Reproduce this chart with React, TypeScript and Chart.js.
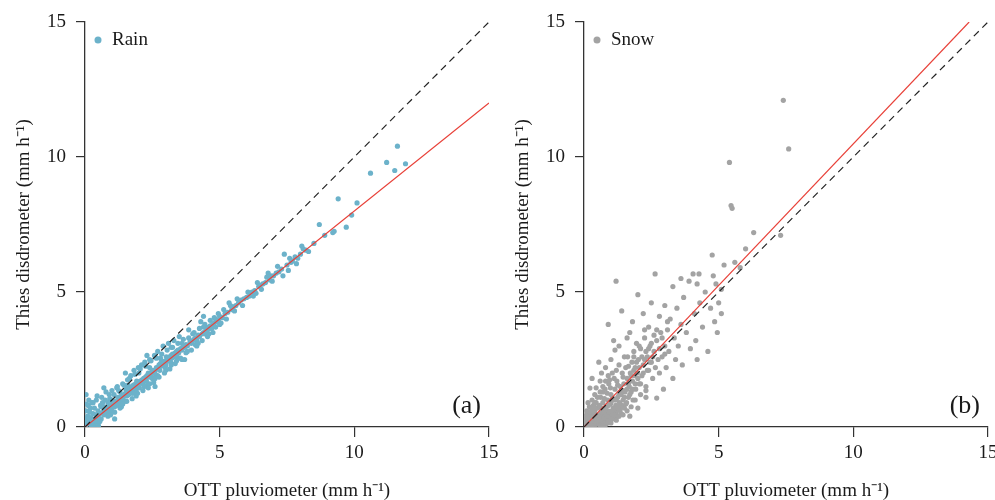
import React, { useEffect, useRef } from "react";
import { Chart, registerables } from "chart.js";
Chart.register(...registerables);

const FONT = "'Liberation Serif', 'Times New Roman', serif";
const AXIS_TICKS = [0, 5, 10, 15];
const X_TITLE = "OTT pluviometer (mm h⁻¹)";
const Y_TITLE = "Thies disdrometer (mm h⁻¹)";

const rainPoints: [number, number][] = [
  [0.02,0.05],[0.05,0.3],[0.03,0.6],[0.04,1.2],[0.08,0.15],[0.1,0.4],[0.12,0.8],[0.15,0.2],[0.18,0.55],[0.2,0.1],
  [0.22,0.35],[0.25,0.9],[0.28,0.25],[0.3,0.5],[0.32,0.15],[0.35,0.7],[0.38,0.3],[0.4,0.45],[0.42,1.0],[0.45,0.2],
  [0.48,0.6],[0.5,0.35],[0.06,0.85],[0.14,1.0],[0.35,0.05],[0.5,0.05],
  [0.55,0.5],[0.58,0.8],[0.6,0.3],[0.62,1.1],[0.65,0.55],[0.7,0.45],[0.72,0.75],[0.75,0.6],[0.78,1.3],[0.8,0.5],
  [0.82,0.7],[0.85,0.9],[0.88,0.55],[0.9,0.75],[0.92,1.05],[0.95,0.7],[0.98,0.85],[1.0,0.6],[1.02,1.0],[1.05,0.8],
  [1.08,1.2],[1.1,0.75],[1.12,0.95],[1.15,0.85],[1.18,1.45],[1.2,0.9],[1.22,1.1],[1.25,0.8],[1.28,1.0],[1.3,1.3],
  [1.32,0.95],[1.35,1.15],[1.38,1.05],[1.4,1.6],[1.42,1.1],[1.45,1.2],[1.48,0.95],[1.5,1.25],
  [1.52,1.4],[1.55,1.15],[1.58,1.75],[1.6,1.3],[1.62,1.2],[1.65,1.45],[1.68,1.35],[1.7,1.9],[1.72,1.25],[1.75,1.5],
  [1.78,1.4],[1.8,1.55],[1.82,2.1],[1.85,1.45],[1.88,1.6],[1.9,1.35],[1.92,1.7],[1.95,1.55],[1.98,2.2],[2.0,1.6],
  [2.02,1.45],[2.05,1.7],[2.08,1.65],[2.1,2.3],[2.12,1.75],[2.15,1.6],[2.18,1.8],[2.2,1.7],[2.22,2.4],[2.25,1.85],
  [2.28,1.7],[2.3,1.9],[2.32,1.55],[2.35,2.0],[2.38,1.85],[2.4,2.5],[2.42,1.95],[2.45,1.9],[2.48,2.05],[2.5,1.8],
  [2.52,2.1],[2.55,2.0],[2.58,2.65],[2.6,2.1],[2.62,1.95],[2.65,2.2],[2.68,2.15],[2.7,2.8],[2.72,2.2],[2.75,2.3],
  [2.78,2.1],[2.8,2.35],[2.82,2.25],[2.85,2.45],[2.88,2.3],[2.9,3.0],[2.92,2.35],[2.95,2.4],[2.98,2.2],[3.0,2.45],
  [3.02,2.6],[3.05,2.45],[3.08,2.55],[3.1,3.1],[3.12,2.5],[3.15,2.6],[3.18,2.4],[3.2,2.65],[3.22,2.55],[3.25,2.7],
  [3.28,2.6],[3.3,3.2],[3.32,2.65],[3.35,2.75],[3.38,2.7],[3.4,2.8],[3.42,2.6],[3.45,2.85],[3.48,2.75],[3.5,3.35],
  [3.55,2.9],[3.6,2.85],[3.65,3.0],[3.7,2.95],[3.75,3.05],[3.8,3.0],[3.85,3.6],[3.9,3.15],[3.95,3.1],[4.0,3.2],
  [4.05,3.25],[4.1,3.3],[4.15,3.2],[4.2,3.4],[4.25,3.35],[4.3,3.9],[4.35,3.45],[4.4,3.5],[4.45,3.45],[4.5,3.65],
  [4.55,3.6],[4.6,3.7],[4.65,3.75],[4.7,3.65],[4.75,3.8],[4.8,3.85],[4.85,4.0],[4.9,3.9],[4.95,3.95],[5.0,4.1],
  [3.6,2.5],[3.2,2.3],[2.4,1.6],[1.9,1.15],[4.1,3.05],[4.4,4.1],[3.0,2.1],[1.3,0.7],[0.95,0.45],[2.7,1.9],
  [0.3,0.9],[0.45,1.15],[0.6,0.75],[0.75,1.0],[0.85,0.4],[1.0,1.35],[1.1,0.55],[1.2,1.5],[1.35,0.75],[1.45,1.55],
  [1.55,0.95],[1.65,1.8],[1.75,1.05],[1.85,1.95],[1.95,1.25],[2.05,2.15],[2.15,1.35],[2.25,2.25],[2.35,1.45],[2.45,2.45],
  [2.55,1.65],[2.65,2.55],[2.75,1.85],[2.85,2.7],[2.95,2.0],[3.05,2.85],[3.15,2.15],[3.25,2.95],[3.35,2.35],[3.45,3.1],
  [3.55,2.55],[3.65,3.25],[3.75,2.75],[3.85,3.3],[3.95,2.85],[4.05,3.5],[4.15,3.0],[4.25,3.65],[4.35,3.2],[4.45,3.8],
  [4.55,3.35],[4.65,3.95],[4.75,3.5],[4.85,3.7],[4.95,4.2],[5.05,3.85],[5.15,4.35],[5.25,4.0],[5.4,4.5],[5.55,4.3],
  [5.65,4.75],[5.85,4.5],[6.05,5.0],[6.25,4.85],[6.4,5.35],[6.55,5.1],[6.8,5.7],[6.95,5.4],[7.15,5.95],[7.35,5.6],
  [7.6,6.25],[7.85,6.05],[8.05,6.7],[8.3,6.5],[1.1,0.3],[2.6,1.5],[3.7,2.5],[0.7,1.45],[1.5,2.0],[2.3,2.65],
  [0.2,0.7],[0.15,0.6],[0.25,0.05],[0.55,0.2],[0.65,0.9],[0.9,1.2],[1.25,1.35],[1.4,0.85],[1.6,1.55],[1.8,1.25],
  [2.0,2.0],[2.2,1.5],[2.4,2.2],[2.6,1.8],[2.8,2.55],[3.0,2.3],[3.2,2.95],[3.4,2.45],[3.6,3.1],[3.8,2.8],
  [4.0,3.45],[4.2,3.1],[4.4,3.7],[4.6,3.45],[4.8,4.05],[5.0,3.8],
  [5.1,4.05],[5.2,4.2],[5.3,4.25],[5.35,4.6],[5.45,4.35],[5.5,4.45],[5.6,4.5],[5.7,4.6],[5.8,4.7],[5.9,4.75],
  [6.0,4.8],[6.1,4.85],[6.2,5.0],[6.3,5.05],[6.35,4.95],[6.45,5.2],[6.5,5.25],[6.6,5.3],[6.7,5.35],[6.75,5.55],
  [6.85,5.45],[6.9,5.6],[7.0,5.6],[7.1,5.7],[7.2,5.75],[7.3,5.85],[7.4,6.4],[7.5,6.0],[7.55,5.8],[7.65,6.1],
  [7.7,6.15],[7.8,6.3],[7.9,6.25],[8.0,6.4],[8.1,6.6],[8.2,6.55],[8.5,6.8],[8.7,7.5],[8.9,7.1],[9.2,7.2],
  [9.25,7.25],[9.4,8.45],[9.7,7.4],[9.9,7.85],[10.1,8.3],[10.6,9.4],[11.2,9.8],[11.5,9.5],[11.6,10.4],[11.9,9.75]
];

const snowPoints: [number, number][] = [
  [0.02,0.02],[0.05,0.1],[0.08,0.05],[0.1,0.2],[0.12,0.08],[0.15,0.3],[0.18,0.12],[0.2,0.4],[0.22,0.15],[0.25,0.25],
  [0.28,0.1],[0.3,0.5],[0.32,0.2],[0.35,0.35],[0.38,0.15],[0.4,0.6],[0.42,0.25],[0.45,0.45],[0.48,0.2],[0.5,0.7],
  [0.05,0.4],[0.1,0.6],[0.15,0.9],[0.2,0.75],[0.22,1.44],[0.3,1.0],[0.35,0.8],[0.4,1.2],[0.45,0.9],[0.5,0.3],
  [0.08,0.3],[0.12,0.5],[0.28,0.6],[0.38,0.05],[0.45,0.1],[0.5,0.15],[0.03,0.2],[0.06,0.06],[0.14,0.16],[0.26,0.42],
  [0.33,0.08],[0.42,0.72],[0.55,0.12],[0.62,0.18],[0.7,0.1],[0.78,0.22],[0.88,0.15],[0.66,0.7],[0.74,0.42],[0.84,0.5],
  [0.55,0.4],[0.58,0.8],[0.6,0.25],[0.62,1.1],[0.65,0.55],[0.68,0.35],[0.7,0.9],[0.72,0.2],[0.75,0.6],[0.78,1.4],
  [0.8,0.45],[0.82,0.75],[0.85,0.3],[0.88,1.0],[0.9,3.8],[0.9,0.6],[0.92,1.6],[0.95,0.4],[0.98,0.85],[1.0,1.2],
  [1.02,0.5],[1.05,2.0],[1.08,0.7],[1.1,1.0],[1.12,0.35],[1.15,2.85],[1.15,1.4],[1.18,0.8],[1.19,5.4],[1.2,0.55],
  [1.22,1.7],[1.25,1.1],[1.28,0.65],[1.3,2.3],[1.32,0.9],[1.34,0.63],[1.35,1.5],[1.38,1.2],[1.4,4.3],[1.4,0.8],
  [1.42,2.0],[1.45,1.0],[1.48,1.6],[1.5,0.7],[0.6,1.7],[0.7,1.3],[0.8,2.2],[1.0,2.5],[1.1,3.2],[1.3,3.0],
  [0.95,0.25],[1.05,0.3],[1.16,0.45],[1.25,0.4],[0.98,1.45],[1.12,1.8],[0.86,1.25],[0.76,1.05],[1.38,0.5],[1.46,1.35],
  [0.1,0.1],[0.15,0.05],[0.2,0.25],[0.25,0.12],[0.3,0.3],[0.35,0.15],[0.4,0.35],[0.45,0.28],[0.5,0.45],[0.55,0.25],
  [0.6,0.5],[0.65,0.3],[0.7,0.55],[0.75,0.35],[0.8,0.65],[0.85,0.4],[0.9,0.8],[0.95,0.55],[1.0,0.9],[1.05,0.6],
  [1.1,0.45],[1.15,0.7],[1.2,1.0],[1.25,0.7],[1.3,1.2],[1.35,0.8],[1.4,1.3],[1.45,0.75],[1.5,1.1],[1.55,0.85],
  [1.6,1.4],[1.65,1.6],[1.7,1.2],[1.75,1.9],[1.8,1.4],[1.85,2.1],[1.9,1.6],[1.95,2.4],[2.0,1.8],[2.05,2.2],
  [2.1,1.6],[2.15,2.6],[2.2,2.0],[2.25,2.5],[2.3,2.8],[2.35,2.1],[2.4,2.9],[2.45,2.4],[2.5,3.1],[2.55,2.6],
  [2.6,3.4],[2.65,2.2],[2.7,3.6],[2.8,2.9],[2.9,3.3],[3.0,2.7],[3.1,3.9],[0.3,0.7],[0.4,0.9],[0.5,1.1],
  [0.6,1.3],[0.7,1.5],[0.8,1.7],[0.9,1.9],[0.45,1.45],[0.65,2.0],[0.3,1.8],[0.55,2.4],[0.2,0.55],[0.12,0.35],
  [0.06,0.18],[0.18,0.02],[0.28,0.05],[0.6,0.05],[0.8,0.08],[1.0,0.15],[1.2,0.25],[1.45,0.45],[1.6,0.6],[1.75,0.75],
  [1.9,1.0],[2.1,1.2],[2.3,1.35],[1.05,1.05],[1.25,1.55],[1.45,1.85],[1.65,2.25],[1.85,2.6],[2.05,3.0],[2.25,3.6],
  [1.5,2.6],[1.2,2.1],[0.95,1.75],[0.7,0.05],[0.9,0.2],[1.3,0.4],[1.7,0.4],
  [1.52,1.3],[1.55,2.2],[1.58,0.9],[1.6,1.8],[1.62,2.6],[1.65,1.1],[1.68,1.5],[1.7,3.5],[1.72,2.0],[1.75,1.3],
  [1.78,2.4],[1.8,1.7],[1.82,1.0],[1.85,2.8],[1.88,1.9],[1.9,2.2],[1.92,1.4],[1.95,3.1],[1.98,2.0],[2.0,0.7],
  [2.02,2.5],[2.05,1.6],[2.1,2.9],[2.15,1.9],[2.2,2.3],[2.25,3.3],[2.3,1.5],[2.35,2.6],[2.4,2.1],[2.45,3.0],
  [2.5,2.4],[2.55,1.8],[2.6,2.8],[2.64,5.67],[2.7,1.07],[2.7,3.2],[2.75,2.5],[2.8,2.0],[2.85,3.5],[2.9,2.6],
  [2.95,1.4],[3.0,3.0],[2.2,4.2],[2.5,4.6],[1.8,3.9],[2.0,4.9],[2.4,3.7],[2.8,4.1],[1.6,3.3],[2.3,1.1],
  [3.05,2.2],[3.1,3.6],[3.15,2.8],[3.2,4.0],[3.3,1.8],[3.35,3.3],[3.4,2.5],[3.45,4.4],[3.5,3.0],[3.6,3.8],
  [3.65,2.3],[3.7,4.8],[3.8,3.5],[3.9,5.4],[3.95,2.9],[4.05,5.67],[4.1,4.2],[4.15,3.2],[4.27,5.67],[4.3,4.6],
  [4.4,3.7],[4.5,5.0],[4.6,2.8],[4.7,4.4],[4.76,6.37],[4.8,5.6],[4.85,3.9],[4.9,5.3],[5.0,4.6],[3.3,5.2],
  [3.6,5.5],[3.0,4.5],[4.2,2.5],[5.1,4.2],[4.95,3.5],[4.2,5.3],
  [5.2,6.0],[5.4,9.8],[5.46,8.2],[5.5,8.1],[5.6,6.1],[5.8,5.9],[6.3,7.2],[7.3,7.1],[7.4,12.1],[7.6,10.3],
  [6.0,6.6],[5.1,5.1]
];

const rainFit: [number, number][] = [[0, 0], [15, 12]];
const snowFit: [number, number][] = [[0, 0], [14.3, 15]];
const oneToOne: [number, number][] = [[0, 0], [15, 15]];

const RAIN_COLOR = "rgb(108,178,202)";
const SNOW_COLOR = "rgb(163,163,163)";
const FIT_COLOR = "rgb(232,64,56)";

type PanelProps = {
  points: [number, number][];
  fit: [number, number][];
  color: string;
  legend: string;
  tag: string;
  left: number;
};

function toXY(arr: [number, number][]) {
  return arr.map(([x, y]) => ({ x, y }));
}

function Panel({ points, fit, color, legend, tag, left }: PanelProps) {
  const ref = useRef<HTMLCanvasElement | null>(null);
  useEffect(() => {
    if (!ref.current) return;
    const annot = {
      id: "annot",
      afterDatasetsDraw(chart: any) {
        const { ctx, chartArea } = chart;
        ctx.save();
        ctx.fillStyle = color;
        ctx.beginPath();
        ctx.arc(chartArea.left + 13, chartArea.top + 18, 3.5, 0, Math.PI * 2);
        ctx.fill();
        ctx.fillStyle = "#1a1a1a";
        ctx.font = `19px ${FONT}`;
        ctx.textBaseline = "middle";
        ctx.textAlign = "left";
        ctx.fillText(legend, chartArea.left + 27, chartArea.top + 18);
        ctx.font = `26px ${FONT}`;
        ctx.textAlign = "right";
        ctx.fillText(tag, chartArea.right - 8, chartArea.bottom - 21);
        ctx.restore();
      },
    };
    const axisCommon = (title: string, isX: boolean) => ({
      type: "linear" as const,
      min: 0,
      max: 15,
      afterBuildTicks: (s: any) => {
        s.ticks = AXIS_TICKS.map((v) => ({ value: v }));
      },
      afterFit: (s: any) => {
        if (isX) {
          s.height = 73;
          s.paddingLeft = 0;
          s.paddingRight = 0;
        } else {
          s.width = 85;
          s.paddingTop = 0;
          s.paddingBottom = 0;
        }
      },
      grid: {
        display: true,
        drawOnChartArea: false,
        drawTicks: true,
        tickLength: isX ? 10 : 9,
        color: "#333",
        lineWidth: 1.2,
      },
      border: { display: true, color: "#333", width: 1.3 },
      ticks: {
        font: { family: FONT, size: 19 },
        color: "#1a1a1a",
        padding: isX ? 5 : 10,
        maxRotation: 0,
        autoSkip: false,
      },
      title: {
        display: true,
        text: title,
        font: { family: FONT, size: 19, lineHeight: 1 },
        color: "#1a1a1a",
        padding: isX ? { top: 0, bottom: -1 } : { top: 15, bottom: 0 },
      },
    });
    const chart = new Chart(ref.current, {
      type: "scatter",
      data: {
        datasets: [
          {
            data: toXY(oneToOne),
            showLine: true,
            borderColor: "#222",
            borderWidth: 1.2,
            borderDash: [7, 5],
            pointRadius: 0,
            order: 0,
          },
          {
            data: toXY(fit),
            showLine: true,
            borderColor: FIT_COLOR,
            borderWidth: 1.2,
            pointRadius: 0,
            order: 0,
          },
          {
            data: toXY(points),
            backgroundColor: color,
            borderWidth: 0,
            pointRadius: 2.6,
            order: 1,
          },
        ],
      },
      options: {
        animation: false,
        responsive: false,
        maintainAspectRatio: false,
        layout: { padding: { left: 0, right: 11, top: 22, bottom: 0 } },
        plugins: { legend: { display: false }, tooltip: { enabled: false } },
        scales: {
          x: axisCommon(X_TITLE, true),
          y: axisCommon(Y_TITLE, false),
        },
      },
      plugins: [annot],
    } as any);
    return () => chart.destroy();
  }, []);
  return (
    <canvas
      ref={ref}
      width={500}
      height={500}
      style={{ position: "absolute", left, top: 0, width: 500, height: 500 }}
    />
  );
}

export default function App() {
  return (
    <div
      style={{
        position: "absolute",
        left: 0,
        top: 0,
        width: 995,
        height: 500,
        overflow: "hidden",
        background: "#fff",
      }}
    >
      <Panel points={rainPoints} fit={rainFit} color={RAIN_COLOR} legend="Rain" tag="(a)" left={0} />
      <Panel points={snowPoints} fit={snowFit} color={SNOW_COLOR} legend="Snow" tag="(b)" left={499} />
    </div>
  );
}
